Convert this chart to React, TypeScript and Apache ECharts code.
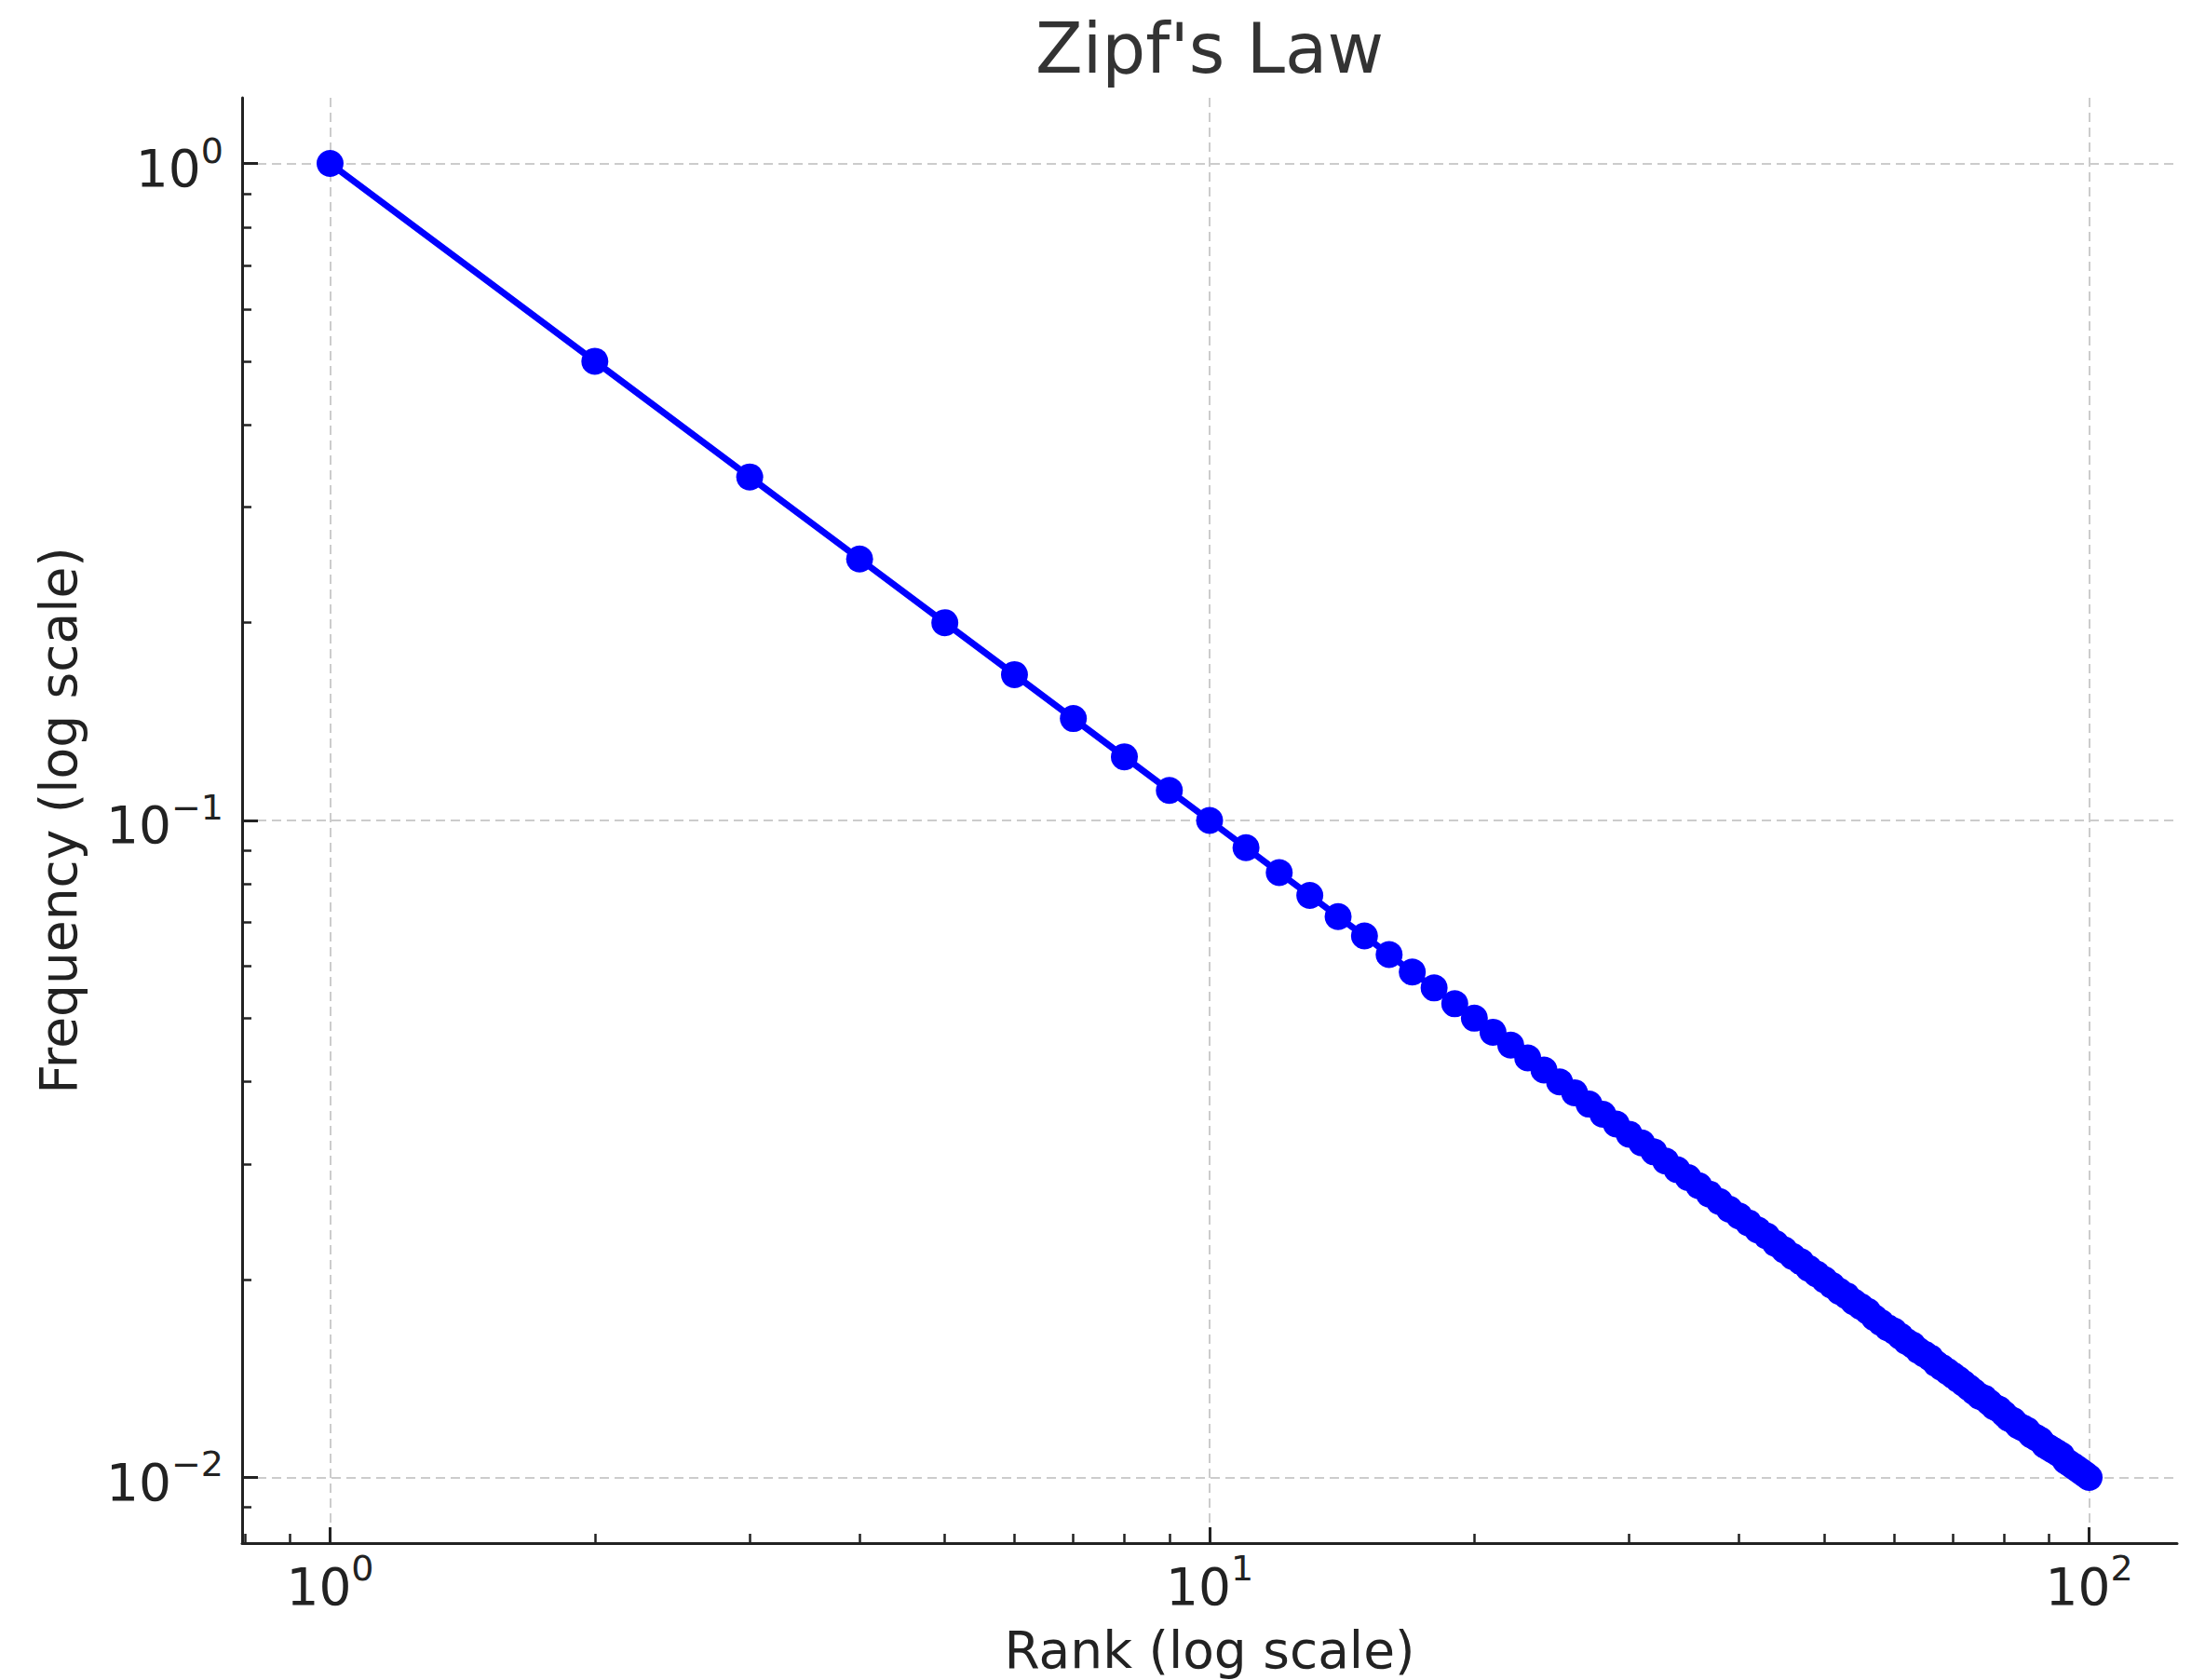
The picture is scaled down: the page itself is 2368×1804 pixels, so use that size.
import React, { useEffect, useRef } from "react";
import * as echarts from "echarts";

// Data: rank and frequency (Zipf's law)
const ranks: number[] = [
  1, 2, 3, 4, 5, 6, 7, 8, 9, 10,
  11, 12, 13, 14, 15, 16, 17, 18, 19, 20,
  21, 22, 23, 24, 25, 26, 27, 28, 29, 30,
  31, 32, 33, 34, 35, 36, 37, 38, 39, 40,
  41, 42, 43, 44, 45, 46, 47, 48, 49, 50,
  51, 52, 53, 54, 55, 56, 57, 58, 59, 60,
  61, 62, 63, 64, 65, 66, 67, 68, 69, 70,
  71, 72, 73, 74, 75, 76, 77, 78, 79, 80,
  81, 82, 83, 84, 85, 86, 87, 88, 89, 90,
  91, 92, 93, 94, 95, 96, 97, 98, 99, 100,
];

const frequencies: number[] = [
  1, 0.5, 0.3333, 0.25, 0.2, 0.1667, 0.1429, 0.125, 0.1111, 0.1,
  0.0909, 0.0833, 0.0769, 0.0714, 0.0667, 0.0625, 0.0588, 0.0556, 0.0526, 0.05,
  0.0476, 0.0455, 0.0435, 0.0417, 0.04, 0.0385, 0.037, 0.0357, 0.0345, 0.0333,
  0.0323, 0.0313, 0.0303, 0.0294, 0.0286, 0.0278, 0.027, 0.0263, 0.0256, 0.025,
  0.0244, 0.0238, 0.0233, 0.0227, 0.0222, 0.0217, 0.0213, 0.0208, 0.0204, 0.02,
  0.0196, 0.0192, 0.0189, 0.0185, 0.0182, 0.0179, 0.0175, 0.0172, 0.0169, 0.0167,
  0.0164, 0.0161, 0.0159, 0.0156, 0.0154, 0.0152, 0.0149, 0.0147, 0.0145, 0.0143,
  0.0141, 0.0139, 0.0137, 0.0135, 0.0133, 0.0132, 0.013, 0.0128, 0.0127, 0.0125,
  0.0123, 0.0122, 0.012, 0.0119, 0.0118, 0.0116, 0.0115, 0.0114, 0.0112, 0.0111,
  0.011, 0.0109, 0.0108, 0.0106, 0.0105, 0.0104, 0.0103, 0.0102, 0.0101, 0.01,
];

const xMajorTicks: number[] = [1, 10, 100];
const xMinorTicks: number[] = [0.8, 0.9, 2, 3, 4, 5, 6, 7, 8, 9, 20, 30, 40, 50, 60, 70, 80, 90];
const yMajorTicks: number[] = [0.01, 0.1, 1];
const yMinorTicks: number[] = [0.009, 0.02, 0.03, 0.04, 0.05, 0.06, 0.07, 0.08, 0.09, 0.2, 0.3, 0.4, 0.5, 0.6, 0.7, 0.8, 0.9];

const xMin = 0.7943;
const xMax = 125.89;
const yMin = 0.007943;
const yMax = 1.2589;

const TITLE = "Zipf's Law";
const X_NAME = "Rank (log scale)";
const Y_NAME = "Frequency (log scale)";

const FONT = "DejaVu Sans";
const TICK_COLOR = "#222222";

const GRID = { left: 260, right: 30, top: 105, bottom: 147 };

function powLabel(v: number): string {
  const e = Math.round(Math.log10(v));
  const s = e < 0 ? "\u2212" + String(-e) : String(e);
  return "{b|10}{s|" + s + "}";
}

const rich = {
  b: { fontSize: 55, lineHeight: 66, verticalAlign: "bottom", fontFamily: FONT, color: TICK_COLOR },
  s: { fontSize: 38, lineHeight: 38, verticalAlign: "top", fontFamily: FONT, color: TICK_COLOR },
};

const splitLineStyle = { color: "#cccccc", width: 2, type: [10, 6] };

export default function App() {
  const ref = useRef<HTMLDivElement>(null);

  useEffect(() => {
    if (!ref.current) return;
    const chart = echarts.init(ref.current, null, { renderer: "svg" });
    const data = ranks.map((r, i) => [r, frequencies[i]]);
    const W = 2368;
    const H = 1804;
    const plotCx = GRID.left + (W - GRID.left - GRID.right) / 2;
    const plotCy = GRID.top + (H - GRID.top - GRID.bottom) / 2;

    chart.setOption({
      animation: false,
      backgroundColor: "#ffffff",
      grid: { ...GRID, containLabel: false },
      xAxis: [
        {
          type: "log",
          logBase: 10,
          min: xMin,
          max: xMax,
          axisLine: { show: true, lineStyle: { color: TICK_COLOR, width: 3 } },
          axisTick: { show: true, inside: true, length: 17, lineStyle: { color: TICK_COLOR, width: 3 }, customValues: xMajorTicks },
          axisLabel: { show: true, margin: 8, customValues: xMajorTicks, formatter: powLabel, rich },
          splitLine: { show: true, lineStyle: splitLineStyle },
          minorTick: { show: false },
        },
        {
          type: "log",
          logBase: 10,
          min: xMin,
          max: xMax,
          position: "bottom",
          axisLine: { show: false },
          axisTick: { show: true, inside: true, length: 10, lineStyle: { color: TICK_COLOR, width: 2.5 }, customValues: xMinorTicks },
          axisLabel: { show: false },
          splitLine: { show: false },
        },
      ],
      yAxis: [
        {
          type: "log",
          logBase: 10,
          min: yMin,
          max: yMax,
          axisLine: { show: true, lineStyle: { color: TICK_COLOR, width: 3 } },
          axisTick: { show: true, inside: true, length: 17, lineStyle: { color: TICK_COLOR, width: 3 }, customValues: yMajorTicks },
          axisLabel: { show: true, margin: 20, customValues: yMajorTicks, formatter: powLabel, rich },
          splitLine: { show: true, lineStyle: splitLineStyle },
        },
        {
          type: "log",
          logBase: 10,
          min: yMin,
          max: yMax,
          position: "left",
          axisLine: { show: false },
          axisTick: { show: true, inside: true, length: 10, lineStyle: { color: TICK_COLOR, width: 2.5 }, customValues: yMinorTicks },
          axisLabel: { show: false },
          splitLine: { show: false },
        },
      ],
      series: [
        {
          type: "line",
          xAxisIndex: 0,
          yAxisIndex: 0,
          data,
          showAllSymbol: true,
          symbol: "circle",
          symbolSize: 29,
          itemStyle: { color: "#0000ff" },
          lineStyle: { color: "#0000ff", width: 7 },
          clip: false,
          z: 5,
        },
      ],
      graphic: [
        {
          type: "text",
          x: plotCx,
          y: 52,
          style: { text: TITLE, fontSize: 74, fontFamily: FONT, fill: "#333333", align: "center", verticalAlign: "middle" },
        },
        {
          type: "text",
          x: plotCx,
          y: 1772,
          style: { text: X_NAME, fontSize: 55, fontFamily: FONT, fill: "#222222", align: "center", verticalAlign: "middle" },
        },
        {
          type: "text",
          x: 63,
          y: plotCy,
          rotation: Math.PI / 2,
          style: { text: Y_NAME, fontSize: 55, fontFamily: FONT, fill: "#222222", align: "center", verticalAlign: "middle" },
        },
      ],
    });

    return () => chart.dispose();
  }, []);

  return (
    <div
      ref={ref}
      style={{ position: "fixed", left: 0, top: 0, width: "2368px", height: "1804px" }}
    />
  );
}
